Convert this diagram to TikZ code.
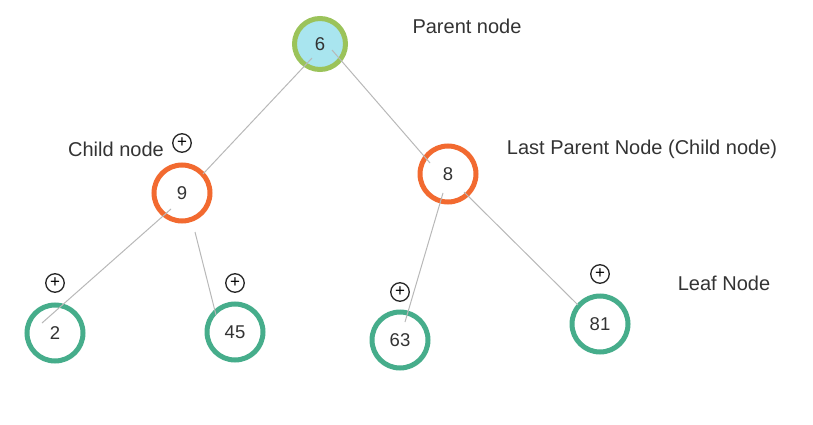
\documentclass[tikz,border=0pt]{standalone}
\usepackage{fontspec}
\setmainfont{Liberation Sans}
\usetikzlibrary{calc}
\begin{document}
\begin{tikzpicture}[x=1pt,y=-1pt,
  every node/.style={font=\fontsize{18.5}{22}\selectfont, text=black!80},
  tnode/.style={circle, line width=5pt, minimum size=56pt, inner sep=0pt, fill=white},
  rootnode/.style={tnode, draw=rootgreen, fill=rootfill, minimum size=51pt},
  midnode/.style={tnode, draw=midorange},
  leafnode/.style={tnode, draw=leafteal},
  plusicon/.style={circle, draw=black!85, line width=1.3pt, minimum size=18.5pt, inner sep=0pt, font=\fontsize{17}{17}\selectfont, text=black},
  lbl/.style={font=\fontsize{20}{24}\selectfont, text=black!80},
  edge/.style={draw=black!28, line width=1pt}]
\definecolor{rootgreen}{HTML}{9BC35A}
\definecolor{rootfill}{HTML}{A9E5EF}
\definecolor{midorange}{HTML}{F26A30}
\definecolor{leafteal}{HTML}{46AD8B}
\useasboundingbox (0,0) rectangle (813,425);
\node[rootnode] (n6) at (320,44) {6};
\node[midnode] (n9) at (182,193) {9};
\node[midnode] (n8) at (448,174) {8};
\node[leafnode] (n2) at (55,333) {2};
\node[leafnode] (n45) at (235,332) {45};
\node[leafnode] (n63) at (400,340) {63};
\node[leafnode] (n81) at (600,324) {81};
\node[plusicon] (p9) at (182,143) {+};
\node[plusicon] (p2) at (55,283) {+};
\node[plusicon] (p45) at (235,283) {+};
\node[plusicon] (p63) at (400,292) {+};
\node[plusicon] (p81) at (600,274) {+};
\node[lbl] (lparent) at (467,26) {Parent node};
\node[lbl] (lchild) at (116,149) {Child node};
\node[lbl] (llast) at (642,149) {Last Parent Node (Child node)};
\node[lbl] (lleaf) at (724,283) {Leaf Node};
\draw[edge] ($(n6)+(-8,14)$) -- ($(n9)+(21,-19)$);
\draw[edge] ($(n6)+(12,6)$) -- ($(n8)+(-18,-11)$);
\draw[edge] ($(n9)+(-11,16)$) -- ($(n2)+(-13,-10)$);
\draw[edge] ($(n9)+(13,39)$) -- ($(n45)+(-19,-17)$);
\draw[edge] ($(n8)+(-5,19)$) -- ($(n63)+(5,-18)$);
\draw[edge] ($(n8)+(16,18)$) -- ($(n81)+(-22,-19)$);
\end{tikzpicture}
\end{document}
